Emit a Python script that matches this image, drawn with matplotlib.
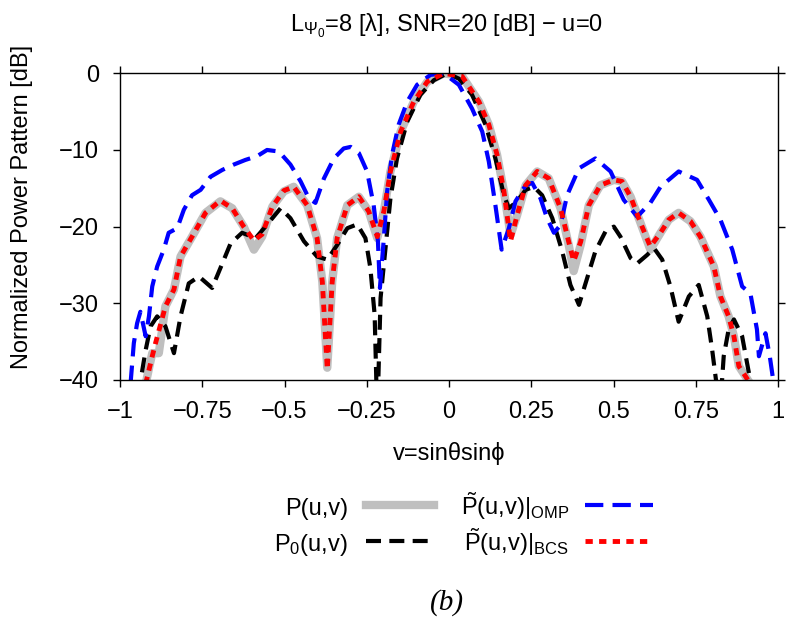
import numpy as np
import matplotlib
matplotlib.use('Agg')
import matplotlib.pyplot as plt
from matplotlib.lines import Line2D

plt.rcParams['font.family'] = ['Liberation Sans', 'DejaVu Sans']
plt.rcParams['font.size'] = 17
plt.rcParams['mathtext.fontset'] = 'custom'
plt.rcParams['mathtext.rm'] = 'Liberation Sans'
plt.rcParams['mathtext.it'] = 'Liberation Sans:italic'
plt.rcParams['mathtext.bf'] = 'Liberation Sans:bold'

# ---- data ----
# P(u,v) - reference pattern (grey)
v_p = [-0.922, -0.902, -0.882, -0.862, -0.836, -0.816, -0.781, -0.740, -0.695, -0.659,
       -0.624, -0.593, -0.568, -0.537, -0.502, -0.472, -0.431, -0.401, -0.385, -0.370,
       -0.355, -0.340, -0.309, -0.274, -0.244, -0.218, -0.198, -0.178, -0.147, -0.107,
       -0.066, -0.016, 0.040, 0.091, 0.121, 0.146, 0.167, 0.187, 0.207, 0.233,
       0.268, 0.303, 0.339, 0.364, 0.379, 0.400, 0.425, 0.460, 0.501, 0.526,
       0.552, 0.582, 0.612, 0.643, 0.668, 0.698, 0.734, 0.764, 0.805, 0.825,
       0.850, 0.866, 0.881, 0.901, 0.916]
p_db = [-40.5, -36.5, -36.5, -30.4, -28.2, -23.9, -21.3, -18.2, -16.7, -17.6,
        -20.0, -23.0, -21.3, -17.4, -15.4, -14.8, -17.2, -21.5, -27.2, -38.4,
        -27.2, -21.5, -17.2, -16.1, -18.0, -21.5, -18.0, -12.8, -7.6, -3.7,
        -1.1, 0.0, -0.4, -3.7, -6.7, -10.6, -15.4, -21.1, -18.5, -14.6,
        -12.8, -13.7, -17.6, -22.4, -25.8, -22.4, -17.2, -14.6, -13.9, -14.1,
        -16.1, -19.5, -23.0, -20.8, -19.1, -18.2, -19.3, -21.3, -25.2, -29.1,
        -31.7, -34.3, -38.2, -39.5, -40.5]

# P~(u,v)|BCS (red dotted)
v_bcs = [-0.922, -0.902, -0.892, -0.862, -0.836, -0.816, -0.781, -0.740, -0.695, -0.659,
         -0.624, -0.593, -0.568, -0.537, -0.502, -0.472, -0.431, -0.401, -0.385, -0.370,
         -0.355, -0.340, -0.309, -0.274, -0.244, -0.218, -0.198, -0.178, -0.147, -0.107,
         -0.066, -0.016, 0.040, 0.091, 0.121, 0.146, 0.167, 0.187, 0.207, 0.233,
         0.268, 0.303, 0.339, 0.364, 0.379, 0.400, 0.425, 0.460, 0.501, 0.526,
         0.552, 0.582, 0.612, 0.643, 0.668, 0.698, 0.734, 0.764, 0.805, 0.825,
         0.850, 0.866, 0.881, 0.901, 0.916]
bcs_db = [-40.5, -36.9, -35.2, -30.4, -28.2, -23.9, -21.3, -18.2, -16.6, -17.6,
          -20.0, -21.8, -21.0, -17.4, -15.3, -14.8, -17.2, -21.5, -27.2, -38.6,
          -27.2, -21.5, -17.2, -16.1, -18.0, -21.3, -18.0, -12.8, -7.6, -3.7,
          -1.1, 0.0, -0.4, -3.7, -6.7, -10.6, -15.4, -21.9, -18.5, -14.6,
          -12.8, -13.7, -17.6, -22.0, -24.5, -22.0, -17.2, -14.6, -13.9, -14.1,
          -16.1, -19.5, -22.6, -20.8, -19.1, -18.2, -19.3, -21.3, -25.2, -29.1,
          -31.7, -34.3, -38.2, -39.5, -40.5]

# P0(u,v) (black dashed)
v_p0 = [-0.945, -0.922, -0.907, -0.887, -0.862, -0.836, -0.816, -0.791, -0.760, -0.720,
        -0.689, -0.664, -0.629, -0.588, -0.558, -0.512, -0.482, -0.441, -0.401, -0.370,
        -0.340, -0.309, -0.279, -0.254, -0.239, -0.226, -0.218, -0.208, -0.193, -0.178,
        -0.158, -0.127, -0.087, -0.046, -0.005, 0.030, 0.070, 0.111, 0.141, 0.167,
        0.182, 0.207, 0.233, 0.258, 0.283, 0.314, 0.344, 0.369, 0.395, 0.420,
        0.445, 0.476, 0.501, 0.521, 0.552, 0.572, 0.602, 0.623, 0.648, 0.673,
        0.698, 0.729, 0.759, 0.785, 0.800, 0.813, 0.822, 0.835, 0.850, 0.866,
        0.891, 0.906, 0.920]
p0_db = [-42.0, -36.1, -33.0, -31.7, -33.0, -36.5, -31.7, -27.4, -26.5, -28.0,
         -24.8, -22.2, -20.8, -21.5, -20.0, -17.6, -18.9, -21.9, -23.9, -24.3,
         -22.4, -20.2, -19.7, -21.5, -25.4, -31.5, -45.0, -29.3, -22.8, -16.3,
         -11.1, -6.3, -2.8, -0.9, 0.0, -0.7, -2.8, -6.7, -11.1, -15.9,
         -17.6, -16.7, -15.2, -14.8, -15.9, -18.9, -23.2, -27.6, -30.2, -26.7,
         -23.2, -20.6, -20.0, -21.3, -24.1, -24.8, -23.7, -22.8, -24.3, -27.8,
         -32.4, -29.1, -27.6, -31.7, -36.1, -40.5, -45.0, -36.9, -33.4, -32.1,
         -34.3, -37.8, -41.0]

# P~(u,v)|OMP (blue dashed)
v_omp = [-0.968, -0.958, -0.948, -0.938, -0.922, -0.912, -0.902, -0.887, -0.867, -0.852,
         -0.826, -0.806, -0.781, -0.755, -0.725, -0.689, -0.654, -0.619, -0.583, -0.553,
         -0.517, -0.482, -0.451, -0.426, -0.406, -0.380, -0.350, -0.320, -0.299, -0.274,
         -0.249, -0.229, -0.216, -0.210, -0.198, -0.188, -0.173, -0.153, -0.127, -0.097,
         -0.056, -0.016, 0.030, 0.070, 0.101, 0.121, 0.141, 0.160, 0.182, 0.202,
         0.233, 0.253, 0.278, 0.298, 0.319, 0.339, 0.359, 0.395, 0.445, 0.491,
         0.531, 0.572, 0.612, 0.643, 0.698, 0.754, 0.790, 0.825, 0.861, 0.891,
         0.916, 0.936, 0.942, 0.962, 0.975, 0.987]
omp_db = [-40.5, -35.2, -32.6, -31.1, -34.3, -31.7, -27.8, -25.2, -23.0, -20.8,
          -20.2, -17.8, -15.9, -15.2, -13.5, -12.6, -11.9, -11.3, -10.8, -10.0,
          -10.2, -11.9, -14.1, -16.3, -16.9, -13.7, -11.1, -9.8, -9.6, -10.4,
          -12.8, -17.2, -21.9, -28.0, -21.5, -15.4, -10.6, -6.7, -3.7, -1.5,
          -0.2, 0.0, -1.5, -4.6, -7.6, -11.5, -17.2, -23.0, -20.2, -16.7,
          -14.6, -14.3, -16.3, -18.9, -20.8, -19.8, -15.9, -12.4, -11.1, -12.8,
          -16.5, -18.7, -16.9, -14.8, -12.8, -13.9, -16.5, -19.1, -23.0, -27.8,
          -28.7, -33.4, -36.9, -33.9, -36.9, -40.5]

x_ticks = [-1, -0.75, -0.5, -0.25, 0, 0.25, 0.5, 0.75, 1]
x_ticklabels = ['\u22121', '\u22120.75', '\u22120.5', '\u22120.25', '0', '0.25', '0.5', '0.75', '1']
y_ticks = [0, -10, -20, -30, -40]

legend_labels = ['P(u,v)', 'P$_0$(u,v)',
                 r'$\tilde{\mathrm{P}}$(u,v)|$_{\mathrm{OMP}}$',
                 r'$\tilde{\mathrm{P}}$(u,v)|$_{\mathrm{BCS}}$']

title = 'L$_{\\Psi_0}$=8 [\u03bb], SNR=20 [dB] \u2212 u=0'

# ---- styles ----
W, H = 787, 637
styles = {
    'p':   dict(color='#bfbfbf', lw=6.0, ls='-'),
    'p0':  dict(color='black', lw=3.0, ls=(0, (3.6, 2.0))),
    'omp': dict(color='#0000ff', lw=3.0, ls=(0, (4.4, 2.2))),
    'bcs': dict(color='#ff0000', lw=3.5, ls=(0, (1.5, 1.3))),
}

fig = plt.figure(figsize=(W / 100, H / 100), dpi=100)
ax = fig.add_axes([120 / W, 1 - 380 / H, 658 / W, 306.7 / H])

ax.plot(v_p, p_db, **styles['p'], solid_capstyle='butt')
ax.plot(v_p0, p0_db, **styles['p0'])
ax.plot(v_omp, omp_db, **styles['omp'])
ax.plot(v_bcs, bcs_db, **styles['bcs'])

ax.set_xlim(-1, 1)
ax.set_ylim(-40, 0)
ax.set_xticks(x_ticks)
ax.set_xticklabels(x_ticklabels)
ax.set_yticks(y_ticks)
ax.tick_params(direction='out', length=5, width=1, top=True, right=True,
               labeltop=False, labelright=False, pad=10)
for s in ax.spines.values():
    s.set_linewidth(1.0)

ax.set_xlabel('v=sin\u03b8sin\u03d5', labelpad=14)
ax.set_ylabel('Normalized Power Pattern [dB]')
ax.yaxis.set_label_coords(-0.132, 0.565)

fig.text(447 / W, 1 - 31 / H, title, ha='center', va='baseline')

# ---- legend drawn below the axes (gnuplot style: label then sample) ----
rows = [515, 551]
entries = [(348, 366, 434, rows[0], legend_labels[0], 'p'),
           (348, 366, 434, rows[1], legend_labels[1], 'p0'),
           (569, 585, 653, rows[0], legend_labels[2], 'omp'),
           (569, 585, 653, rows[1], legend_labels[3], 'bcs')]
for xt, x0, x1, yb, lab, key in entries:
    fig.text(xt / W, 1 - yb / H, lab, ha='right', va='baseline')
    yl = yb - 10
    fig.add_artist(Line2D([x0 / W, x1 / W], [1 - yl / H, 1 - yl / H],
                          transform=fig.transFigure, **styles[key]))

fig.text(447 / W, 1 - 603 / H, '(b)', ha='center', va='center',
         family='Liberation Serif', style='italic', fontsize=21)

fig.savefig('out.png', dpi=100)
